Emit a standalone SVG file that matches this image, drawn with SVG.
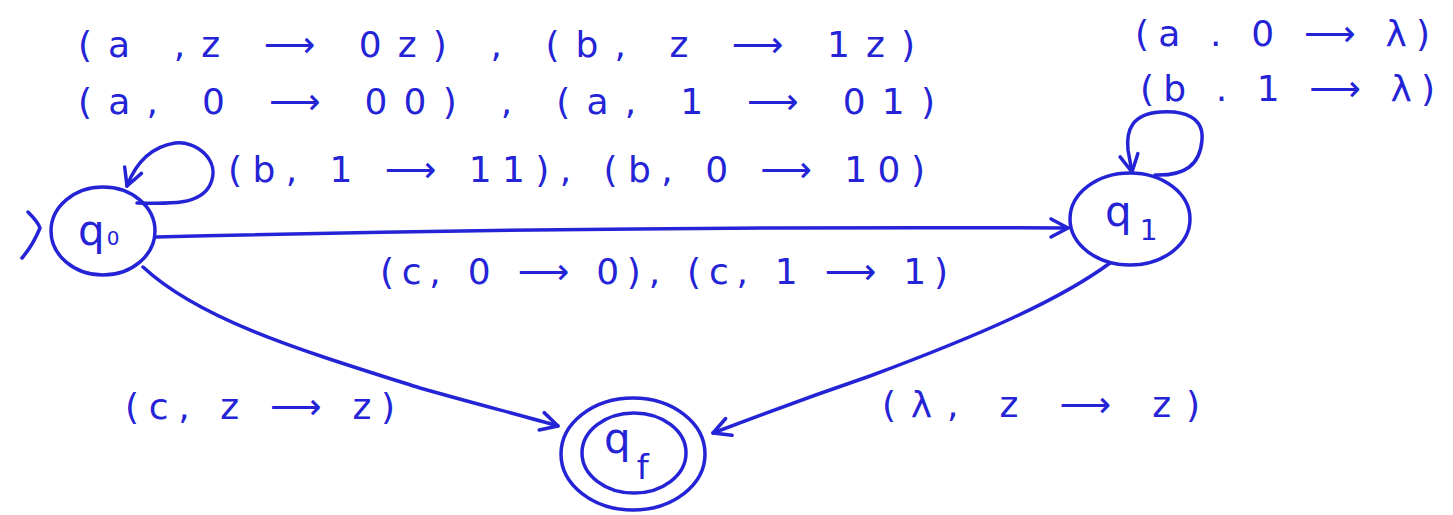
<svg xmlns="http://www.w3.org/2000/svg" width="1453" height="515" viewBox="0 0 1453 515">
<style>
.s{fill:none;stroke:#2424d6;stroke-width:3.5;stroke-linecap:round;stroke-linejoin:round}
.t{font-family:"DejaVu Sans","Liberation Sans",sans-serif;font-size:36px;fill:#2424d6}
.n{font-family:"DejaVu Sans","Liberation Sans",sans-serif;font-size:42px;fill:#2424d6}
</style>
<defs>
<marker id="ah" viewBox="0 0 24 24" refX="21" refY="12" markerWidth="24" markerHeight="24" markerUnits="userSpaceOnUse" orient="auto">
<path d="M4,3 L21,12 L4,21" fill="none" stroke="#2424d6" stroke-width="3.5" stroke-linecap="round" stroke-linejoin="round"/>
</marker>
</defs>
<rect width="1453" height="515" fill="#ffffff"/>

<g id="q0">
<ellipse class="s" cx="103" cy="231" rx="52" ry="44"/>
<text class="n" x="78" y="245">q<tspan font-size="20" dx="2">0</tspan></text>
</g>

<g id="q1">
<ellipse class="s" cx="1130" cy="219" rx="60" ry="46"/>
<text class="n" x="1105" y="226">q<tspan font-size="28" dx="8" dy="14">1</tspan></text>
</g>

<g id="qf">
<ellipse class="s" cx="633" cy="454" rx="72" ry="56"/>
<ellipse class="s" cx="634" cy="453" rx="52" ry="40"/>
<text class="n" x="604" y="453" font-size="38">q<tspan font-size="34" dx="6" dy="26">f</tspan></text>
</g>

<g id="connectors">
<path class="s" d="M28,212 Q38,222 40,228 Q33,245 22,258"/>
<path class="s" d="M156,237 Q600,226 1068,228" marker-end="url(#ah)"/>
<path class="s" d="M137,203 C170,204 200,205 210,185 C222,160 195,140 175,143 C150,147 135,165 127,186" marker-end="url(#ah)"/>
<path class="s" d="M1155,175 C1185,176 1200,165 1202,140 C1204,118 1185,110 1160,112 C1132,114 1126,130 1128,150 L1132,172" marker-end="url(#ah)"/>
<path class="s" d="M143,267 C200,320 300,350 420,388 C480,405 520,415 558,426" marker-end="url(#ah)"/>
<path class="s" d="M1110,263 C1060,300 980,335 870,376 C800,400 760,415 713,433" marker-end="url(#ah)"/>
</g>

<g id="labels">
<text class="t" x="78" y="57" textLength="837" lengthAdjust="spacing">(a ,z ⟶ 0z) , (b, z ⟶ 1z)</text>
<text class="t" x="78" y="114" textLength="857" lengthAdjust="spacing">(a, 0 ⟶ 00) , (a, 1 ⟶ 01)</text>
<text class="t" x="228" y="182" textLength="697" lengthAdjust="spacing">(b, 1 ⟶ 11), (b, 0 ⟶ 10)</text>
<text class="t" x="1135" y="46" textLength="295" lengthAdjust="spacing">(a . 0 ⟶ λ)</text>
<text class="t" x="1140" y="101" textLength="295" lengthAdjust="spacing">(b . 1 ⟶ λ)</text>
<text class="t" x="380" y="284" textLength="568" lengthAdjust="spacing">(c, 0 ⟶ 0), (c, 1 ⟶ 1)</text>
<text class="t" x="125" y="419" textLength="270" lengthAdjust="spacing">(c, z ⟶ z)</text>
<text class="t" x="882" y="417" textLength="318" lengthAdjust="spacing">(λ, z ⟶ z)</text>
</g>
</svg>
